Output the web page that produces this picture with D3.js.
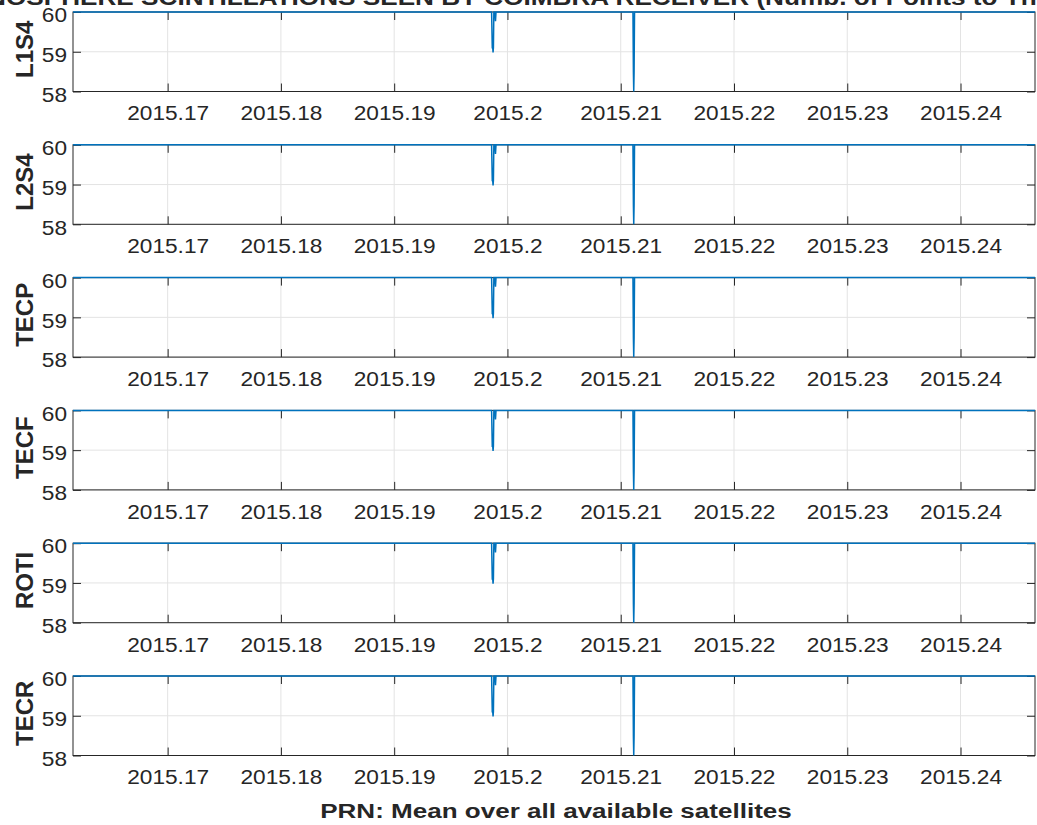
<!DOCTYPE html>
<html>
<head>
<meta charset="utf-8">
<script src="https://cdn.jsdelivr.net/npm/d3@7"></script>
<style>
  html, body { margin: 0; padding: 0; background: #fff; }
  svg { display: block; }
  text { font-family: "Liberation Sans", Arial, Helvetica, sans-serif; fill: #262626; }
</style>
</head>
<body>
<svg id="chart" width="1037" height="825"></svg>
<script>
// ---- data ----
const panelNames = ["L1S4", "L2S4", "TECP", "TECF", "ROTI", "TECR"];
const xDomain = [2015 + 59 / 365, 2015 + 90 / 365];
const xTicks = [2015.17, 2015.18, 2015.19, 2015.2, 2015.21, 2015.22, 2015.23, 2015.24];
const xTickLabels = ["2015.17", "2015.18", "2015.19", "2015.2", "2015.21", "2015.22", "2015.23", "2015.24"];
const yDomain = [58, 60];
const yTicks = [58, 59, 60];
// mean over all satellites (decimal year, value) - same curve in every panel
const times = [2015.161644, 2015.198600, 2015.198660, 2015.198700, 2015.198730, 2015.198760, 2015.198800,
               2015.198900, 2015.198944, 2015.198990, 2015.211080, 2015.211120, 2015.211150, 2015.211180,
               2015.211220, 2015.246575];
const values = [60, 60, 59.1, 59.1, 58.98, 59.1, 60,
                60, 59.77, 60, 60, 58.48, 58.0, 58.48,
                60, 60];
const titlePrefix = "ION";
const titleVisible = "OSPHERE SCINTILLATIONS SEEN BY COIMBRA RECEIVER (Numb. of Points to Th";
const titleSuffix = "reshold)";
const xLabelText = "PRN: Mean over all available satellites";

// ---- layout ----
const svg = d3.select("#chart");
const left = 73, right = 1035;
const top0 = 12, step = 132.8, ph = 79.5;
const axisColor = "#262626", gridColor = "#e3e3e3", lineColor = "#0072BD";
const tickLen = 8;

const x = d3.scaleLinear().domain(xDomain).range([left, right]);
const data = times.map((t, i) => ({ t, v: values[i] }));

// title (partially cut off at the top, as in the original figure)
const title = svg.append("text")
  .attr("x", 0).attr("y", 5)
  .attr("font-weight", "bold")
  .attr("font-size", 22)
  .text(titlePrefix + titleVisible + titleSuffix);
{
  const node = title.node();
  const s = node.getSubStringLength(0, titlePrefix.length);
  const w = node.getSubStringLength(titlePrefix.length, titleVisible.length);
  const k = (1037 - 6) / w;
  const tx = 6 - s * k;
  title.attr("transform", `translate(${tx},0) scale(${k},1)`);
}

panelNames.forEach((name, i) => {
  const top = top0 + i * step, bottom = top + ph;
  const y = d3.scaleLinear().domain(yDomain).range([bottom, top]);
  const g = svg.append("g");

  // grid
  g.selectAll(".gx").data(xTicks).enter().append("line")
    .attr("x1", d => x(d)).attr("x2", d => x(d))
    .attr("y1", top).attr("y2", bottom)
    .attr("stroke", gridColor).attr("stroke-width", 1);
  g.selectAll(".gy").data(yTicks).enter().append("line")
    .attr("x1", left).attr("x2", right)
    .attr("y1", d => y(d)).attr("y2", d => y(d))
    .attr("stroke", gridColor).attr("stroke-width", 1);

  // axes box
  g.append("rect")
    .attr("x", left).attr("y", top).attr("width", right - left).attr("height", ph)
    .attr("fill", "none").attr("stroke", axisColor).attr("stroke-width", 1);

  // x ticks (inward, bottom and top)
  const xAxisB = d3.axisBottom(x).tickValues(xTicks).tickSize(-tickLen).tickPadding(12)
    .tickFormat((d, k) => xTickLabels[k]);
  const gxB = g.append("g").attr("transform", `translate(0,${bottom})`).call(xAxisB);
  gxB.select(".domain").remove();
  gxB.selectAll("line").attr("stroke", axisColor);
  gxB.selectAll("text").attr("font-size", 21).attr("fill", "#262626")
    .attr("font-family", "Liberation Sans, Arial, sans-serif")
    .attr("dy", null).attr("y", 29)
    .style("transform-box", "fill-box").style("transform-origin", "center").style("transform", "scaleX(1.08)");
  const xAxisT = d3.axisTop(x).tickValues(xTicks).tickSize(-tickLen).tickFormat("");
  const gxT = g.append("g").attr("transform", `translate(0,${top})`).call(xAxisT);
  gxT.select(".domain").remove();
  gxT.selectAll("line").attr("stroke", axisColor);

  // y ticks (inward, left and right)
  const yAxisL = d3.axisLeft(y).tickValues(yTicks).tickSize(-tickLen).tickPadding(6).tickFormat(d3.format("d"));
  const gyL = g.append("g").attr("transform", `translate(${left},0)`).call(yAxisL);
  gyL.select(".domain").remove();
  gyL.selectAll("line").attr("stroke", axisColor);
  gyL.selectAll("text").attr("font-size", 21).attr("fill", "#262626")
    .attr("font-family", "Liberation Sans, Arial, sans-serif")
    .attr("x", -6).attr("y", 3)
    .style("transform-box", "fill-box").style("transform-origin", "right center").style("transform", "scaleX(1.08)");
  const yAxisR = d3.axisRight(y).tickValues(yTicks).tickSize(-tickLen).tickFormat("");
  const gyR = g.append("g").attr("transform", `translate(${right},0)`).call(yAxisR);
  gyR.select(".domain").remove();
  gyR.selectAll("line").attr("stroke", axisColor);

  // data line
  const line = d3.line().x(d => x(d.t)).y(d => y(d.v));
  g.append("path").datum(data)
    .attr("d", line)
    .attr("fill", "none").attr("stroke", lineColor).attr("stroke-width", 1.5)
    .attr("stroke-linejoin", "miter");

  // y label
  g.append("text")
    .attr("transform", `translate(33,${(top + bottom) / 2 - 2.5}) rotate(-90)`)
    .attr("text-anchor", "middle")
    .attr("font-weight", "bold")
    .attr("font-size", 24)
    .text(name);
});

// x axis label
svg.append("text")
  .attr("x", 556).attr("y", 818)
  .attr("text-anchor", "middle")
  .attr("font-weight", "bold")
  .attr("font-size", 21)
  .attr("transform", "translate(556,0) scale(1.24,1) translate(-556,0)")
  .text(xLabelText);
</script>
</body>
</html>
